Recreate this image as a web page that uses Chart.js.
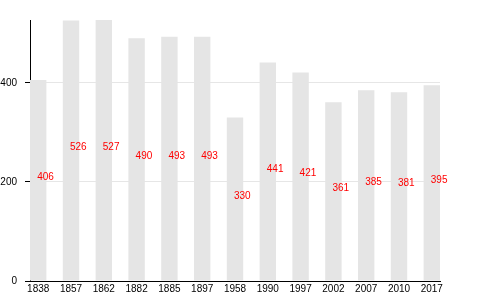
<!DOCTYPE html>
<html>
<head>
<meta charset="utf-8">
<script src="https://cdn.jsdelivr.net/npm/chart.js@4"></script>
<style>
  html, body { margin: 0; padding: 0; background: #fff; }
  #wrap { width: 480px; height: 300px; position: relative; }
</style>
</head>
<body>
<div id="wrap"><canvas id="chart"></canvas></div>
<script>
let years = ["1838", "1857", "1862", "1882", "1885", "1897", "1958", "1990", "1997", "2002", "2007", "2010", "2017"];
let population = [406, 526, 527, 490, 493, 493, 330, 441, 421, 361, 385, 381, 395];
let yTicks = [0, 200, 400];

// red value written inside each bar, starting at the bar centre
let valueLabels = {
    id: "valueLabels",
    afterDatasetsDraw(chart) {
        let ctx = chart.ctx;
        let meta = chart.getDatasetMeta(0);
        ctx.save();
        ctx.font = "10px 'Liberation Sans', Arial, sans-serif";
        ctx.fillStyle = "#ff0000";
        ctx.textAlign = "left";
        ctx.textBaseline = "alphabetic";
        meta.data.forEach((bar, i) => {
            let mid = (bar.y + bar.base) / 2;
            ctx.fillText(String(population[i]), bar.x - 1, mid);
        });
        ctx.restore();
    }
};

let ctx = document.getElementById("chart").getContext("2d");
new Chart(ctx, {
    type: "bar",
    data: {
        datasets: [{
            data: population.map((v, i) => ({ x: i, y: v })),
            backgroundColor: "#e5e5e5",
            borderWidth: 0,
            barPercentage: 0.5,
            categoryPercentage: 1
        }]
    },
    options: {
        responsive: true,
        maintainAspectRatio: false,
        animation: false,
        layout: { padding: { top: 20, right: 40, left: 0, bottom: 0 } },
        plugins: { legend: { display: false }, tooltip: { enabled: false } },
        scales: {
            x: {
                type: "linear",
                offset: false,
                min: -0.25,
                max: 12.25,
                afterBuildTicks: (scale) => {
                    scale.ticks = years.map((y, i) => ({ value: i }));
                },
                afterFit: (scale) => { scale.height = 19; },
                grid: { display: false, drawTicks: false },
                border: { display: true, color: "#000", width: 1 },
                ticks: {
                    color: "#000",
                    padding: 2,
                    maxRotation: 0,
                    autoSkip: false,
                    font: { family: "'Liberation Sans', Arial, sans-serif", size: 10 },
                    callback: (value) => years[value]
                }
            },
            y: {
                min: 0,
                max: 527,
                afterBuildTicks: (scale) => {
                    scale.ticks = yTicks.map((v) => ({ value: v }));
                },
                afterFit: (scale) => { scale.width = 30; },
                grid: { color: "#e6e6e6", tickColor: "#000", tickLength: 5, drawTicks: true },
                border: { display: true, color: "#000", width: 1 },
                ticks: {
                    color: "#000",
                    padding: 8,
                    font: { family: "'Liberation Sans', Arial, sans-serif", size: 10 }
                }
            }
        }
    },
    plugins: [valueLabels]
});
</script>
</body>
</html>
